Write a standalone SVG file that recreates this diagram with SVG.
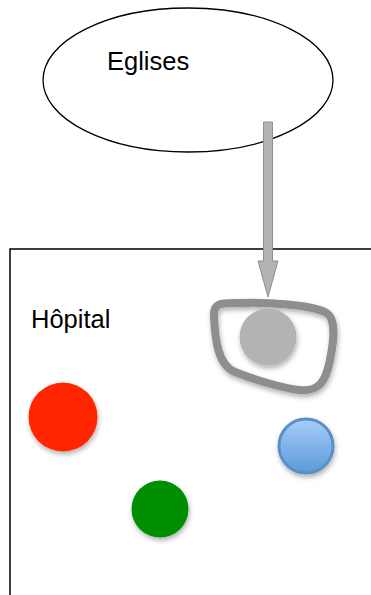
<svg xmlns="http://www.w3.org/2000/svg" width="371" height="595" viewBox="0 0 371 595">
<defs>
<style>
.lbl{font-family:"Liberation Sans",Arial,sans-serif;fill:#000;font-size:25.5px}
</style>
<filter id="sh" x="-30%" y="-30%" width="170%" height="170%">
<feDropShadow dx="1" dy="3" stdDeviation="2.5" flood-color="#000" flood-opacity="0.3"/>
</filter>
<linearGradient id="bl" x1="0" y1="0" x2="0" y2="1">
<stop offset="0" stop-color="#a9cdfc"/>
<stop offset="1" stop-color="#5b9ad8"/>
</linearGradient>
</defs>
<rect width="371" height="595" fill="#fff"/>
<g id="hopital">
<path d="M10 595 V249 H371" fill="none" stroke="#000" stroke-width="1.5"/>
<text class="lbl" x="31" y="328">Hôpital</text>
</g>
<g id="eglises">
<ellipse cx="188" cy="80" rx="145" ry="72" fill="#fff" stroke="#000" stroke-width="1.3"/>
<text class="lbl" x="107" y="70">Eglises</text>
</g>
<g id="connectors">
<path d="M263.5 122 H272.5 V261 H278 L268 297 L258 261 H263.5 Z" fill="#b3b3b3" stroke="#8f8f8f" stroke-width="1"/>
</g>
<g id="blob" filter="url(#sh)">
<path d="M214 316 C213 302 222 303 240 303 C270 302 310 305 325 312 C338 318 333 345 330 360 C326 380 320 392 300 390 C280 388 250 378 235 372 C218 365 215 340 214 316 Z" fill="none" stroke="#8e8e8e" stroke-width="8" stroke-linejoin="round"/>
</g>
<g id="gray-node" filter="url(#sh)">
<circle cx="268" cy="337" r="28.5" fill="#b3b3b3"/>
</g>
<g id="red-node" filter="url(#sh)">
<circle cx="63" cy="417" r="34.5" fill="#ff2600"/>
</g>
<g id="blue-node" filter="url(#sh)">
<circle cx="306" cy="446" r="27" fill="url(#bl)" stroke="#5b8fc8" stroke-width="3"/>
</g>
<g id="green-node" filter="url(#sh)">
<circle cx="160" cy="509" r="28.5" fill="#008f00"/>
</g>
</svg>
